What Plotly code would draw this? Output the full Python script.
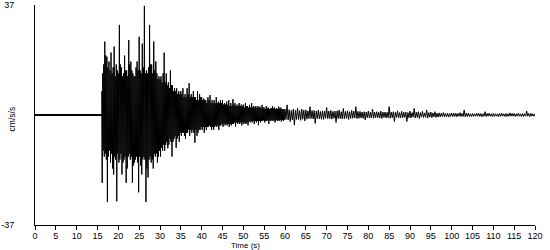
import plotly.graph_objects as go

# ---- data (cm/s/s) ----
pre_time = [0.0, 15.95]
pre_vals = [0.0, 0.0]

# strong-motion part: samples every 0.125 s starting at 16.0 s (8 values per second)
seg_a_start = 16.0
seg_a_dt = 0.125
seg_a_vals = [
    8, -22.8, 14, -12, 17, -14, 24.7, -13,          # 16 s
    20, -15, 19.6, -29.3, 16, -14, 18, -12,         # 17
    15, -16, 21, -13, 14, -18, 16, -20,             # 18
    23, -14, 13, -15, 17, -29, 15, -13,             # 19
    14, -16, 30.3, -15, 17, -13, 16, -20,           # 20
    13, -16, 14, -15, 20, -14, 15, -22.8,           # 21
    15, -18, 13, -14, 25.2, -13, 17, -15,           # 22
    18, -14, 15, -22.8, 14, -17, 13, -16,           # 23
    13, -15, 16, -14, 18, -16, 15, -26,             # 24
    26.3, -14, 15, -17, 14, -20, 24, -15,           # 25
    16, -14, 36.7, -15, 14, -29.3, 15, -18,         # 26
    14, -21, 16, -15, 30.3, -14, 17, -16,           # 27
    17, -15, 14, -18, 24.7, -13, 15, -14,           # 28
    18, -13, 14, -16, 12, -14, 13, -12,             # 29
    12, -14, 13, -11, 11, -12, 14, -10,             # 30
    21, -12, 11, -10, 14, -9, 10, -11.2,            # 31
    11, -10, 9, -8, 15, -9, 10, -14,                # 32
    10, -9, 8, -8, 9, -7, 8, -11,                   # 33
    9, -8, 7, -7, 8, -9, 7, -6,                     # 34
    8, -7, 7, -6, 9, -6, 6, -7,                     # 35
    7, -8, 6, -6, 9, -6, 7, -5,                     # 36
    10.7, -7, 6, -5, 7, -6, 6, -5,                  # 37
    8, -6, 6, -9.3, 6, -5, 5, -7,                   # 38
    8, -6, 5, -5, 7, -5, 6, -4,                     # 39
    6, -5, 5, -4, 5.5, -6, 5, -4,                   # 40
    5, -5, 4, -4, 6, -4, 5, -3.5,                   # 41
    6.7, -4, 4, -5, 5, -4, 4, -5,                   # 42
    5, -4, 4, -3.5, 6, -4, 4, -3.5,                 # 43
    4.5, -5, 4, -3.5, 5, -3.5, 4, -3,               # 44
    5, -4, 3.5, -3, 4, -3.5, 3.5, -3,               # 45
    4.5, -3.5, 3.5, -3, 5, -4, 3, -3,               # 46
    4, -3.5, 3, -3, 5.3, -3, 3.5, -2.5,             # 47
    4, -3.9, 3, -2.5, 3.5, -3, 3, -2.5,             # 48
    4, -3, 3, -2.5, 3.5, -3.5, 3, -2.5,             # 49
    3.5, -3, 2.5, -2.5, 4, -3, 3, -2.5,             # 50
    3, -3.5, 2.5, -2, 3.4, -2.5, 2.5, -2,           # 51
    4, -2.5, 2.5, -2, 3, -3, 2.5, -2,               # 52
    3, -2.5, 2.3, -2, 3, -3.4, 2.5, -2,             # 53
    2.8, -2.5, 2.2, -2, 3.4, -2, 2.5, -1.8,         # 54
    2.5, -2.5, 2, -2, 3, -2, 2.3, -1.8,             # 55
    2.5, -3, 2, -1.8, 2.3, -2, 2.2, -1.7,           # 56
    3, -2, 2.2, -1.8, 2.5, -2.5, 2, -1.7,           # 57
    2.3, -2, 2, -1.7, 2.8, -2, 2.2, -1.6,           # 58
    2.5, -2.2, 2, -1.7, 2, -2, 1.8, -1.6,           # 59
]

# coda: samples every 0.25 s starting at 60 s (4 values per second)
seg_b_start = 60.0
seg_b_dt = 0.25
seg_b_vals = [
    2, -1.5, 3.4, -1.7,   1.8, -2.2, 1.5, -1.6,   2, -3.4, 1.6, -1.5,   2.3, -1.5, 1.5, -1.8,   # 60-63
    2, -1.4, 1.7, -2,     1.7, -1.4, 1.4, -1.2,   2.8, -1.2, 1.5, -1.3, 1.5, -2.8, 1.3, -1.2,   # 64-67
    1.7, -1.3, 1.2, -1.4, 1.4, -1.5, 1.3, -1.1,   2.5, -1.2, 1.3, -1.2, 1.5, -1.4, 1.2, -1.1,   # 68-71
    1.3, -2.5, 1.4, -1.2, 1.7, -1.2, 1.1, -1.3,   2.2, -1.3, 1.2, -1.1, 1.4, -1.5, 1.1, -1.2,   # 72-75
    1.6, -1.1, 1.3, -1,   2.8, -1.2, 1.2, -1.1,   1.2, -1, 1, -1.1,     1.1, -1.6, 1, -0.9,     # 76-79
    1.3, -1, 0.9, -1,     2, -1.1, 1, -0.9,       1.1, -0.9, 0.9, -1,   1.3, -1.2, 1, -0.8,     # 80-83
    1, -1, 0.9, -0.9,     2.8, -1.1, 1, -0.9,     1.1, -2.2, 0.9, -0.8, 1.4, -1, 0.8, -0.9,     # 84-87
    1.2, -0.9, 0.9, -0.8, 1, -2.2, 0.8, -0.9,     1.3, -1, 0.8, -0.7,   2.2, -1, 0.9, -0.8,     # 88-91
    1.1, -1.2, 0.8, -0.7, 1.2, -0.8, 0.7, -0.8,   1.7, -1, 0.8, -0.7,   1, -0.9, 0.7, -0.6,     # 92-95
    1.1, -0.8, 0.6, -0.7, 0.7, -0.6, 0.6, -0.5,   0.8, -0.6, 0.5, -0.6, 0.6, -0.7, 0.5, -0.5,   # 96-99
    0.7, -0.5, 0.6, -0.5, 0.6, -0.6, 0.5, -0.4,   0.8, -0.5, 0.5, -0.5, 1.7, -0.6, 0.6, -0.5,   # 100-103
    0.6, -0.5, 0.4, -0.5, 0.5, -0.5, 0.4, -0.4,   0.6, -0.4, 0.5, -0.5, 0.5, -0.6, 0.4, -0.4,   # 104-107
    1.1, -0.5, 0.5, -0.4, 0.6, -0.4, 0.4, -0.5,   0.5, -0.5, 0.4, -0.4, 0.4, -0.6, 0.5, -0.4,   # 108-111
    0.6, -0.4, 0.4, -0.5, 0.5, -0.5, 0.4, -0.4,   0.7, -0.4, 0.5, -0.4, 0.5, -0.5, 0.4, -0.4,   # 112-115
    0.6, -0.4, 0.4, -0.5, 0.5, -0.5, 0.4, -0.4,   1.3, -0.4, 0.5, -0.5, 0.5, -0.4, 0.4, -0.4,   # 116-119
    0.4,                                                                                        # 120
]

x_ticks = list(range(0, 125, 5))
y_range = [-37, 37]
y_ticks = [-37, 37]

seg_a_time = [seg_a_start + seg_a_dt * i for i in range(len(seg_a_vals))]
seg_b_time = [seg_b_start + seg_b_dt * i for i in range(len(seg_b_vals))]

time = seg_a_time + seg_b_time
vals = seg_a_vals + seg_b_vals

fig = go.Figure()
# quiet pre-event part
fig.add_trace(go.Scatter(
    x=pre_time + time[:1], y=pre_vals + [0.0], mode="lines",
    line=dict(color="black", width=2),
    hoverinfo="skip", showlegend=False,
))
# record
fig.add_trace(go.Scatter(
    x=time, y=vals, mode="lines",
    line=dict(color="black", width=1, simplify=False),
    hoverinfo="skip", showlegend=False,
))

fam = "Liberation Sans, Arial, sans-serif"
tick_font = dict(family=fam, size=9, color="black")

fig.update_layout(
    width=550, height=250,
    margin=dict(l=35, r=15, t=5, b=25),
    paper_bgcolor="white", plot_bgcolor="white",
    font=dict(family=fam, size=9, color="black"),
    showlegend=False,
    xaxis=dict(
        range=[0, 120], tickvals=x_ticks, ticktext=[str(v) for v in x_ticks],
        showgrid=False, zeroline=False, showline=True, linecolor="black", linewidth=1,
        ticks="outside", ticklen=4, tickcolor="black", tickwidth=1,
        tickfont=tick_font, ticklabelstandoff=-2, automargin=False, fixedrange=True,
    ),
    yaxis=dict(
        range=y_range, tickvals=y_ticks, ticktext=[str(v) for v in y_ticks],
        showgrid=False, zeroline=False, showline=True, linecolor="black", linewidth=1,
        ticks="", tickfont=tick_font, ticklabelstandoff=18,
        ticklabeloverflow="allow", automargin=False, fixedrange=True,
    ),
    annotations=[
        dict(text="Time (s)", xref="paper", yref="paper", x=0.421, y=-0.093,
             xanchor="center", yanchor="middle", showarrow=False,
             font=dict(family=fam, size=8, color="black")),
        dict(text="cm/s/s", xref="paper", yref="paper", x=-0.046, y=0.48,
             xanchor="center", yanchor="middle", showarrow=False, textangle=-90,
             font=dict(family=fam, size=8.5, color="black")),
    ],
)

fig.write_html("out.html")
